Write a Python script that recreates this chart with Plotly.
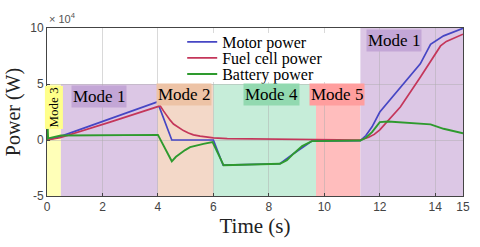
import plotly.graph_objects as go

# ---- data (power in units of 1e4 W) ----
motor_t = [0, 0.47, 3.98, 4.5, 6.0, 6.35, 8.4, 8.9, 9.55, 11.3, 11.5, 11.72, 12.0, 12.74, 13.46, 13.83, 14.3, 15]
motor_p = [0.0, 0.3, 3.4, 0.0, 0.0, -2.25, -2.12, -1.2, -0.1, -0.05, 0.4, 1.18, 2.5, 4.7, 6.8, 8.55, 9.3, 9.97]

fuel_t = [0, 0.47, 2.27, 4.08, 4.2, 4.32, 4.44, 4.56, 4.74, 4.92, 5.1, 5.28, 5.52, 5.76, 6.0, 6.5, 9.5, 11.3, 11.6, 11.8, 12.0, 12.74, 13.46, 14.19, 14.4, 14.7, 15]
fuel_p = [0.0, 0.2, 1.6, 3.05, 2.6, 2.15, 1.77, 1.43, 1.1, 0.84, 0.63, 0.46, 0.34, 0.25, 0.19, 0.12, 0.08, 0.0, 0.25, 0.5, 0.9, 2.95, 5.6, 8.4, 8.8, 9.15, 9.45]

batt_t = [0, 0.0, 0.04, 0.5, 4.0, 4.5, 4.65, 4.8, 4.98, 5.16, 5.4, 5.64, 5.97, 6.37, 8.4, 8.65, 8.9, 9.2, 9.55, 11.3, 11.5, 11.72, 12.0, 12.3, 13.83, 14.3, 15]
batt_p = [0.0, 2.7, 0.15, 0.4, 0.46, -1.9, -1.5, -1.22, -0.9, -0.64, -0.47, -0.34, -0.19, -2.26, -2.12, -1.8, -1.2, -0.55, -0.1, -0.05, 0.2, 0.7, 1.6, 1.65, 1.4, 1.0, 0.6]

series_names = ["Motor power", "Fuel cell power", "Battery power"]
series_colors = ["#4646C4", "#C4365A", "#2E9A2E"]

mode_names = ["Mode 3", "Mode 1", "Mode 2", "Mode 4", "Mode 5", "Mode 1"]
mode_start = [0.0, 0.5, 4.0, 6.0, 9.7, 11.3]
mode_end = [0.5, 4.0, 6.0, 9.7, 11.3, 15.0]
mode_top = [5, 5, 5, 5, 5, 10]
mode_bottom = [-5, -5, -5, -5, -5, -5]
mode_fill = ["#FFFFB8", "#DCC7E5", "#F3D8C8", "#C6EDD9", "#FFBDBD", "#DCC7E5"]
label_bg = ["#FFFF8A", "#C3A6D6", "#EDC3A6", "#92D9B0", "#FF9E9E", "#C3A6D6"]
label_x = [0.25, 1.88, 4.94, 8.11, 10.46, 12.51]
label_y = [2.9, 3.9, 4.07, 4.1, 4.1, 8.9]

x_ticks = [0, 2, 4, 6, 8, 10, 12, 14, 15]
y_ticks = [-5, 0, 5, 10]

fig = go.Figure()

for s, e, lo, hi, c in zip(mode_start, mode_end, mode_bottom, mode_top, mode_fill):
    fig.add_shape(type="rect", x0=s, x1=e, y0=lo, y1=hi, xref="x", yref="y",
                  fillcolor=c, line=dict(width=0), layer="below")

# white backing box for the legend (hides gridlines behind it)
fig.add_shape(type="rect", xref="paper", yref="paper", x0=0.332, x1=0.716, y0=0.679, y1=0.97,
              fillcolor="white", line=dict(width=0), layer="above")

serif = "Liberation Serif"
sans = "Liberation Sans"

legend_ids = ["legend", "legend2", "legend3"]
legend_rows = [0.917, 0.821, 0.726]
widths = [1.7, 1.7, 1.9]
for (tx, py), name, col, lid, w in zip([(motor_t, motor_p), (fuel_t, fuel_p), (batt_t, batt_p)],
                                       series_names, series_colors, legend_ids, widths):
    fig.add_trace(go.Scatter(x=tx, y=py, mode="lines", name=name, legend=lid,
                             line=dict(color=col, width=w)))

for i, (name, x, y, bg) in enumerate(zip(mode_names, label_x, label_y, label_bg)):
    fig.add_annotation(x=x, y=y, xref="x", yref="y", text=name, showarrow=False,
                       textangle=-90 if i == 0 else 0,
                       font=dict(family=serif, size=13 if i == 0 else 17, color="black"),
                       bgcolor=bg, borderpad=1)

fig.add_annotation(x=0, y=1.0, xref="paper", yref="paper", text="× 10<sup>4</sup>",
                   showarrow=False, xanchor="left", yanchor="bottom", yshift=1,
                   font=dict(family=sans, size=11, color="#555555"))

legend_common = dict(xanchor="left", yanchor="middle", bgcolor="rgba(0,0,0,0)", borderwidth=0,
                     font=dict(family=serif, size=16, color="black"), itemwidth=30)
layout_legends = {lid: dict(x=0.325, y=ry, **legend_common) for lid, ry in zip(legend_ids, legend_rows)}

fig.update_layout(
    width=480, height=247,
    margin=dict(l=47, r=17, t=28, b=51, autoexpand=False),
    paper_bgcolor="white", plot_bgcolor="rgba(0,0,0,0)",
    showlegend=True,
    xaxis=dict(range=[0, 15], tickvals=x_ticks, ticktext=[str(v) for v in x_ticks],
               automargin=False,
               showgrid=True, gridcolor="rgba(170,170,170,0.45)", gridwidth=1,
               zeroline=False, showline=True, linecolor="#444444", linewidth=1, mirror=True,
               ticks="inside", ticklen=3, tickcolor="#444444",
               tickfont=dict(family=sans, size=12, color="#444444"),
               title=dict(text="Time (s)", font=dict(family=serif, size=21, color="#222222"),
                          standoff=0)),
    yaxis=dict(range=[-5, 10], tickvals=y_ticks, ticktext=[str(v) for v in y_ticks],
               automargin=False,
               showgrid=True, gridcolor="rgba(170,170,170,0.45)", gridwidth=1,
               zeroline=False, showline=True, linecolor="#444444", linewidth=1, mirror=True,
               ticks="inside", ticklen=3, tickcolor="#444444",
               tickfont=dict(family=sans, size=12, color="#444444"),
               title=dict(text="Power (W)", font=dict(family=serif, size=20, color="#222222"),
                          standoff=4)),
    **layout_legends,
)

fig.write_html("out.html", config={"displayModeBar": False},
               post_script="document.body.style.margin='0';document.body.style.padding='0';")
